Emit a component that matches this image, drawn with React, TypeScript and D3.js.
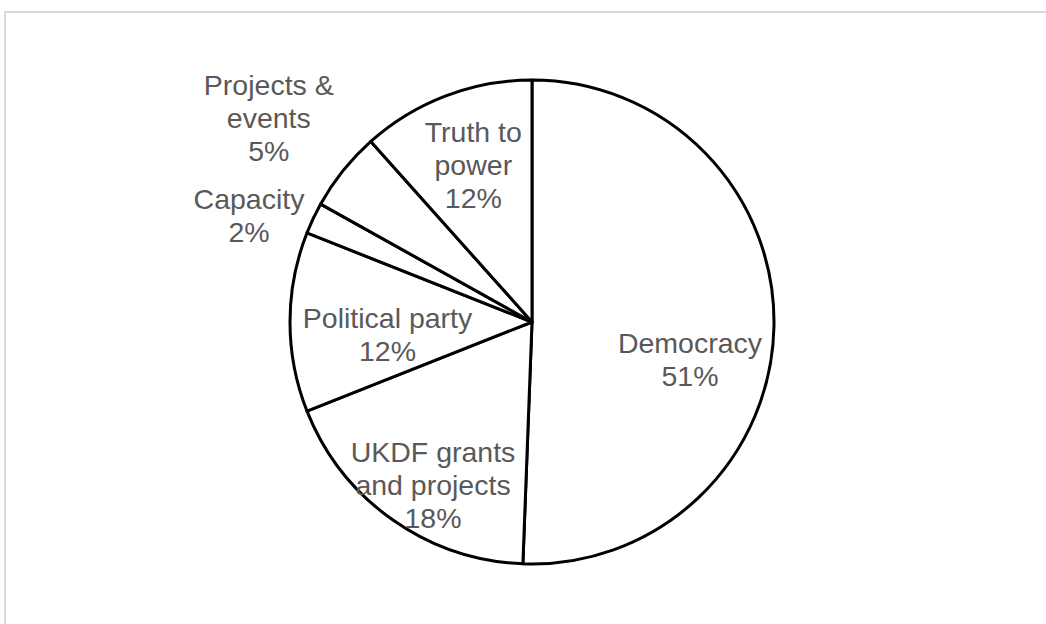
import React from "react";
import * as d3 from "d3";

const categories = [
  "Democracy",
  "UKDF grants and projects",
  "Political party",
  "Capacity",
  "Projects & events",
  "Truth to power",
];
const values = [50.6, 18.4, 12.0, 2.1, 5.3, 11.6];
const labelLines = [
  ["Democracy"],
  ["UKDF grants", "and projects"],
  ["Political party"],
  ["Capacity"],
  ["Projects &", "events"],
  ["Truth to", "power"],
];
// label block centre offsets relative to the pie centre
const labelOffsets: [number, number][] = [
  [158, 37.5],
  [-99, 163],
  [-144.5, 12],
  [-283, -106.7],
  [-263.2, -204.5],
  [-58.7, -157],
];

const W = 1046;
const H = 624;
const CX = 532;
const CY = 322;
const R = 242;
const LINE = 33;
const FONT = 28.5;

export default function App() {
  const data = categories.map((c, i) => ({ c, v: values[i], i }));
  const pie = d3
    .pie<{ c: string; v: number; i: number }>()
    .value((d) => d.v)
    .sort(null)
    .startAngle(0)
    .endAngle(2 * Math.PI);
  const arcs = pie(data);
  const arc = d3
    .arc<d3.PieArcDatum<{ c: string; v: number; i: number }>>()
    .innerRadius(0)
    .outerRadius(R);

  return (
    <svg
      width={W}
      height={H}
      style={{ position: "fixed", left: 0, top: 0, background: "#fff" }}
    >
      <rect x={5} y={12} width={W + 10} height={H + 10} fill="#fff" stroke="#d9d9d9" strokeWidth={2} />
      <g transform={`translate(${CX},${CY})`}>
        {arcs.map((a) => (
          <path
            key={a.data.c}
            d={arc(a) || ""}
            fill="#fff"
            stroke="#000"
            strokeWidth={3}
            strokeLinejoin="round"
          />
        ))}
        {arcs.map((a, i) => {
          const lines = [...labelLines[i], `${Math.round(values[i])}%`];
          const [dx, dy] = labelOffsets[i];
          const n = lines.length;
          const first = dy - ((n - 1) * LINE) / 2 + FONT * 0.358;
          return (
            <text
              key={"l" + i}
              textAnchor="middle"
              fontFamily="'Liberation Sans', Arial, sans-serif"
              fontSize={FONT}
              fill="#595959"
            >
              {lines.map((t, k) => (
                <tspan key={k} x={dx} y={first + k * LINE}>
                  {t}
                </tspan>
              ))}
            </text>
          );
        })}
      </g>
    </svg>
  );
}
